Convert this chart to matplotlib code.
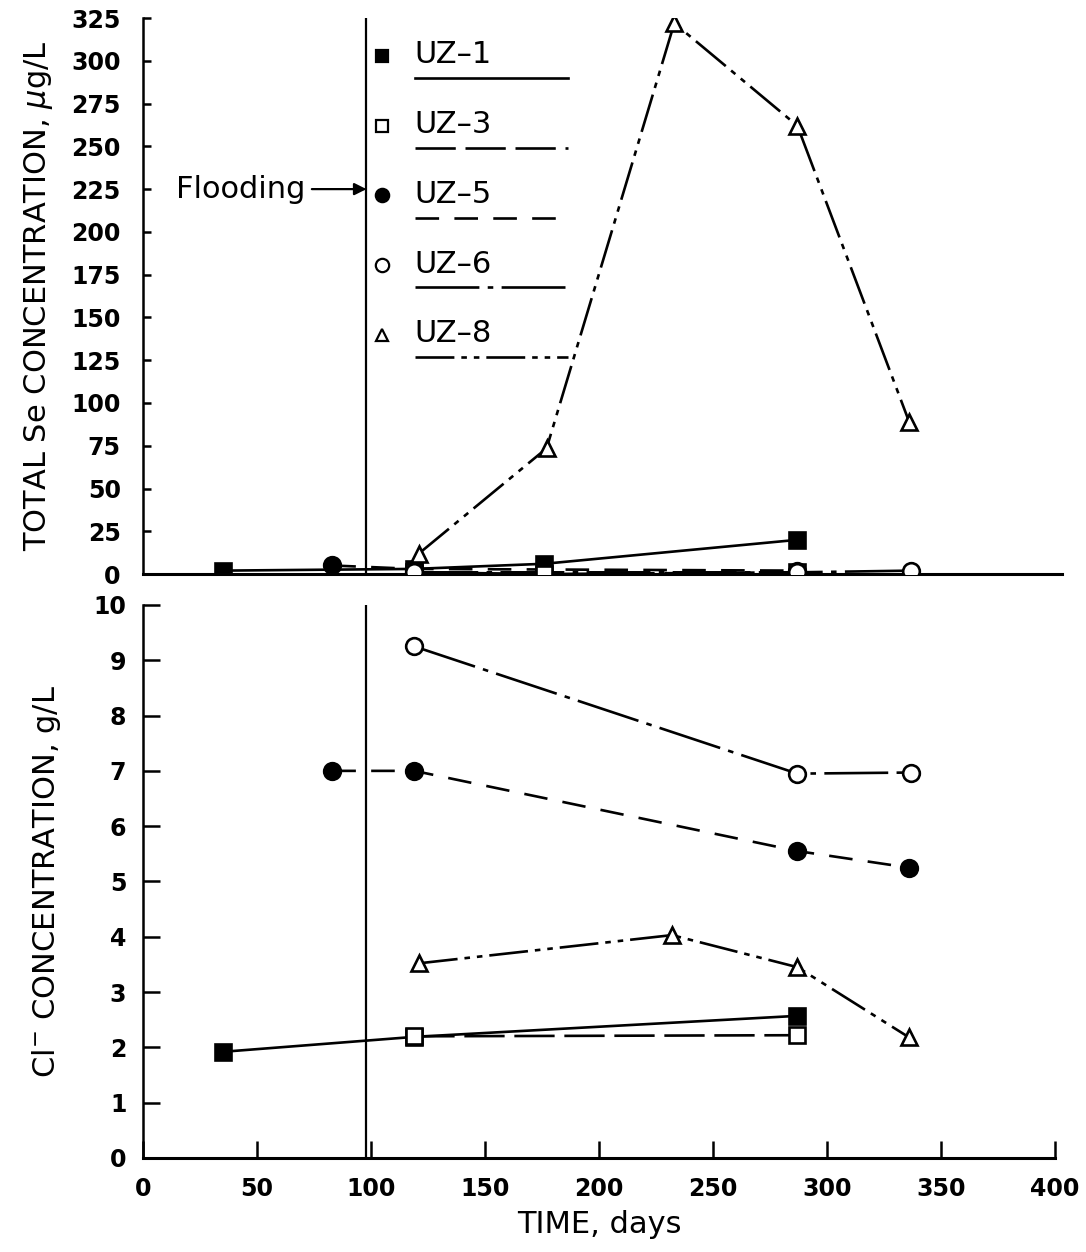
import matplotlib
matplotlib.use("Agg")
import matplotlib.pyplot as plt

plt.rcParams['font.family'] = ['DejaVu Sans']
plt.rcParams['lines.scale_dashes'] = False

# ---------------- data ----------------
flood_day = 98

se_uz1_days = [35, 119, 176, 287]
se_uz1 = [2, 3, 6, 20]
se_uz3_days = [119, 176, 287]
se_uz3 = [1, 0, 1]
se_uz5_days = [83, 119, 287]
se_uz5 = [5, 3, 2]
se_uz6_days = [119, 287, 337]
se_uz6 = [1, 1, 2]
se_uz8_days = [121, 177, 233, 287, 336]
se_uz8 = [12, 73.5, 322, 262, 89]

cl_uz1_days = [35, 119, 287]
cl_uz1 = [1.92, 2.19, 2.57]
cl_uz3_days = [119, 287]
cl_uz3 = [2.2, 2.22]
cl_uz5_days = [83, 119, 287, 336]
cl_uz5 = [7.0, 7.0, 5.55, 5.25]
cl_uz6_days = [119, 287, 337]
cl_uz6 = [9.25, 6.95, 6.97]
cl_uz8_days = [121, 232, 287, 336]
cl_uz8 = [3.52, 4.03, 3.45, 2.18]

labels = ["UZ\u20131", "UZ\u20133", "UZ\u20135", "UZ\u20136", "UZ\u20138"]
se_ticks = list(range(0, 326, 25))
cl_ticks = list(range(0, 11))
x_ticks = list(range(0, 401, 50))

# ---------------- styles ----------------
LW = 1.9
styles = [
    dict(marker='s', mfc='black', dashes=None),
    dict(marker='s', mfc='white', dashes=(29, 7)),
    dict(marker='o', mfc='black', dashes=(17, 11)),
    dict(marker='o', mfc='white', dashes=(46, 6, 4, 6)),
    dict(marker='^', mfc='white', dashes=(28, 5, 4, 5, 4, 5)),
]
msizes = [11.5, 11, 12, 12, 11.5]

fig = plt.figure(figsize=(10.86, 12.52), dpi=100)
ax1 = fig.add_axes([0.1317, 0.5415, 0.8398, 0.4441])
ax2 = fig.add_axes([0.1317, 0.0751, 0.8398, 0.4417])


def draw(ax, series):
    for i, (d, v) in enumerate(series):
        st = styles[i]
        ln, = ax.plot(d, v, color='black', lw=LW, zorder=3)
        if st['dashes'] is not None:
            ln.set_dashes(st['dashes'])
        ax.plot(d, v, linestyle='none', marker=st['marker'], ms=msizes[i],
                mfc=st['mfc'], mec='black', mew=1.9, zorder=4 + (1 if st['mfc'] == 'white' else 0))


draw(ax1, [(se_uz1_days, se_uz1), (se_uz3_days, se_uz3), (se_uz5_days, se_uz5),
           (se_uz6_days, se_uz6), (se_uz8_days, se_uz8)])
draw(ax2, [(cl_uz1_days, cl_uz1), (cl_uz3_days, cl_uz3), (cl_uz5_days, cl_uz5),
           (cl_uz6_days, cl_uz6), (cl_uz8_days, cl_uz8)])

for ax in (ax1, ax2):
    ax.axvline(flood_day, color='black', lw=1.6, zorder=2)
    ax.spines['top'].set_visible(False)
    ax.spines['right'].set_visible(False)
    ax.spines['left'].set_linewidth(1.8)
    ax.spines['bottom'].set_linewidth(2.2)
    ax.set_xlim(0, 400)

# top axis
ax1.set_ylim(0, 325)
ax1.set_yticks(se_ticks)
ax1.set_xticks([])
ax1.spines['bottom'].set_bounds(0, 403)
ax1.tick_params(axis='y', direction='in', length=6, width=1.8, labelsize=17, pad=16)
for t in ax1.get_yticklabels():
    t.set_fontweight('bold')
ax1.set_ylabel("TOTAL Se CONCENTRATION, $\\mu$g/L", fontsize=22, labelpad=12)
ax1.spines['bottom'].set_clip_on(False)

ax1.annotate("Flooding", xy=(flood_day, 225), xytext=(71, 225),
             ha='right', va='center', fontsize=22,
             arrowprops=dict(arrowstyle='-|>', color='black', lw=1.6,
                             mutation_scale=18, shrinkA=3, shrinkB=0))

# manual legend
x_mark, x_text, x_end = 0.262, 0.298, 0.466
y0, dy = 0.932, 0.1255
for i, lab in enumerate(labels):
    st = styles[i]
    y = y0 - i * dy
    ax1.plot([x_mark], [y], transform=ax1.transAxes, marker=st['marker'],
             ms=msizes[i] * 0.8, mfc=st['mfc'], mec='black', mew=1.6,
             linestyle='none', clip_on=False)
    ax1.text(x_text, y + 0.002, lab, transform=ax1.transAxes, fontsize=22,
             va='center', ha='left')
    ln, = ax1.plot([x_text, x_end], [y - 0.040, y - 0.040], transform=ax1.transAxes,
                   color='black', lw=LW, clip_on=False)
    if st['dashes'] is not None:
        ln.set_dashes(st['dashes'])

# bottom axis
ax2.set_ylim(0, 10)
ax2.set_yticks(cl_ticks)
ax2.set_xticks(x_ticks)
ax2.tick_params(axis='y', direction='in', length=12, width=1.8, labelsize=17, pad=12)
ax2.tick_params(axis='x', direction='in', length=12, width=1.8, labelsize=17, pad=14)
for t in ax2.get_yticklabels() + ax2.get_xticklabels():
    t.set_fontweight('bold')
ax2.set_ylabel("Cl$^{-}$ CONCENTRATION, g/L", fontsize=22, labelpad=22)
ax2.set_xlabel("TIME, days", fontsize=22, labelpad=6)

fig.savefig("out.png", dpi=100)
